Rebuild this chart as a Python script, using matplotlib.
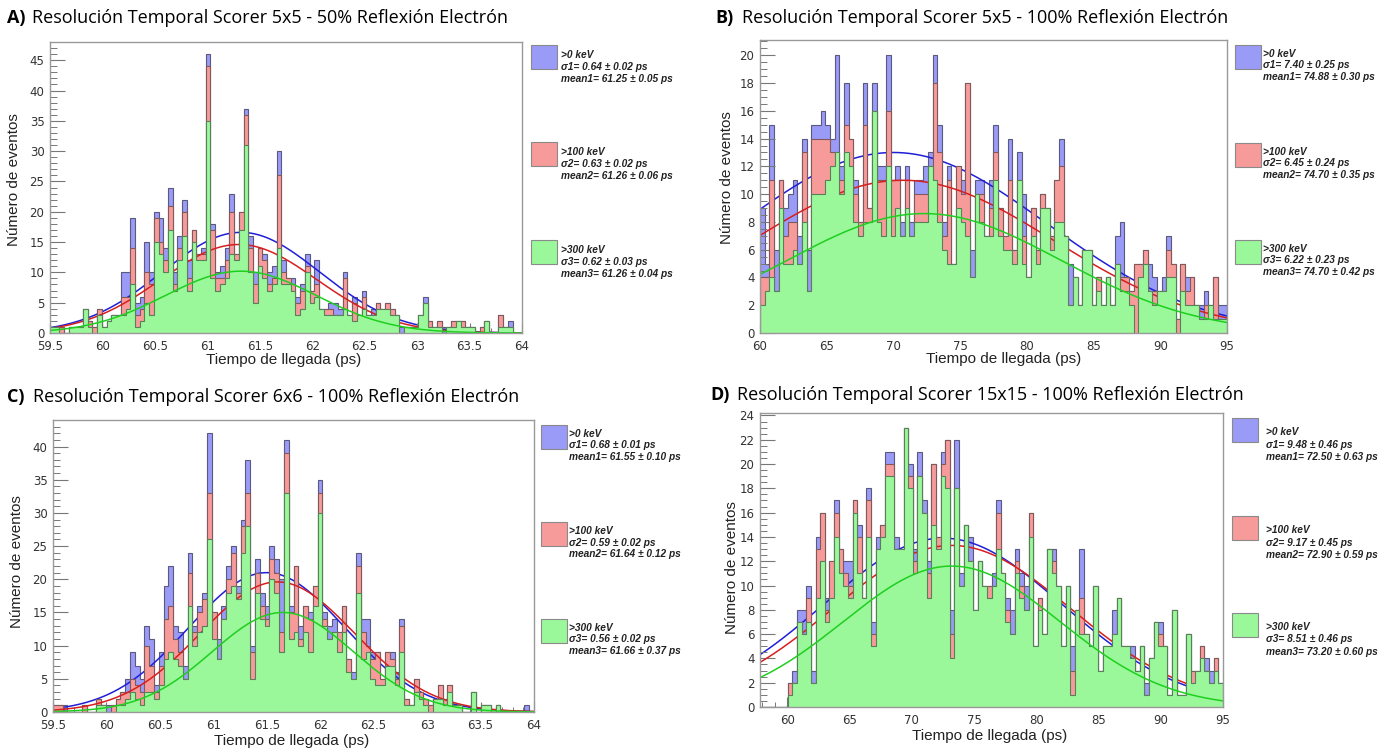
import numpy as np
import matplotlib.pyplot as plt
from matplotlib.ticker import MultipleLocator, FuncFormatter
from matplotlib.patches import Rectangle

W, H = 1397, 750

# ---------------- data ----------------
# panel A: 59.5 - 64 ps, 100 bins
a_range = (59.5, 64.0)
a_blue = [1,1,1,0,1,1,1,4,2,1, 4,1,2,3,3,10,10,19,5,6, 15,10,20,19,14,24,10,16,22,12,
          17,13,14,46,18,10,11,14,23,13, 20,37,16,10,14,13,10,11,30,12, 9,9,6,8,13,7,12,4,4,5,
          5,4,10,3,6,3,7,3,4,5, 4,5,4,3,1,1,1,1,3,6, 2,1,2,1,1,2,2,2,1,1, 0,1,2,0,0,3,1,2,0,0]
a_red = [1,1,1,0,1,1,1,4,2,1, 4,1,2,3,3,6,6,14,3,4, 10,8,19,15,12,21,8,14,20,9,
         17,13,13,44,17,9,9,12,20,13, 20,36,14,8,14,12,8,9,26,10, 9,8,5,7,11,7,8,4,4,4,
         3,3,9,3,5,3,6,3,3,5, 4,5,4,3,0,1,1,1,3,5, 2,1,2,0,1,2,2,2,1,1, 0,1,2,0,0,3,1,1,0,0]
a_green = [1,1,0,0,1,1,1,4,1,0, 3,1,2,3,3,3,4,8,1,2, 5,3,15,13,10,17,7,12,16,7,
           15,12,12,35,9,7,8,9,13,12, 17,31,10,5,11,9,7,8,14,8, 8,7,3,4,10,5,6,4,3,3,
           3,3,4,3,2,3,4,3,3,4, 4,4,3,3,0,1,1,1,3,5, 1,1,1,0,1,1,2,1,1,1, 0,0,2,0,0,1,1,1,0,0]
a_fit_amp = [16.6, 14.6, 10.2]
a_fit_mean = [61.32, 61.30, 61.32]
a_fit_sigma = [0.75, 0.74, 0.72]
a_legend = [("σ1= 0.64 ± 0.02 ps", "mean1= 61.25 ± 0.05 ps"),
            ("σ2= 0.63 ± 0.02 ps", "mean2= 61.26 ± 0.06 ps"),
            ("σ3= 0.62 ± 0.03 ps", "mean3= 61.26 ± 0.04 ps")]

# panel B: 60 - 95 ps, 100 bins
b_range = (60.0, 95.0)
b_blue = [9,5,15,6,11,9,10,11,7,14, 6,15,15,16,15,14,20,12,18,14, 11,8,18,9,18,12,12,20,11,12,
          8,12,8,11,11,12,13,20,15,8, 12,5,12,11,18,6,11,11,7,11, 15,9,7,14,6,13,10,4,9,6,
          10,9,7,11,14,7,5,4,2,6, 6,2,4,2,4,2,7,8,4,3, 5,5,6,5,4,3,4,7,5,1, 5,4,4,2,2,3,2,4,2,2]
b_red = [4,4,11,3,11,7,8,8,5,13, 3,14,14,14,14,13,13,11,15,14, 10,8,15,9,16,11,11,16,11,11,
         7,11,7,10,10,10,11,18,13,7, 11,5,12,10,18,4,10,10,7,9, 13,9,7,11,6,11,7,4,9,6,
         10,9,7,11,12,7,2,4,2,6, 6,2,4,2,4,2,5,4,4,3, 5,5,6,3,3,3,3,6,5,1, 5,3,4,2,1,2,2,4,1,1]
b_green = [2,3,4,3,9,5,5,6,5,8, 3,10,10,10,11,12,13,10,13,12, 8,7,8,8,16,8,7,12,7,9,
           7,9,7,8,8,8,12,11,8,6, 5,5,9,8,7,4,10,8,7,7, 11,7,6,6,5,11,5,4,7,5,
           9,9,6,8,8,7,2,4,2,6, 6,2,3,2,4,2,5,3,3,2, 0,4,5,3,2,3,3,4,4,0, 3,2,2,2,1,1,2,1,1,1]
b_fit_amp = [13.0, 11.0, 8.6]
b_fit_mean = [70.0, 70.7, 72.3]
b_fit_sigma = [11.5, 11.3, 10.3]
b_legend = [("σ1= 7.40 ± 0.25 ps", "mean1= 74.88 ± 0.30 ps"),
            ("σ2= 6.45 ± 0.24 ps", "mean2= 74.70 ± 0.35 ps"),
            ("σ3= 6.22 ± 0.23 ps", "mean3= 74.70 ± 0.42 ps")]

# panel C: 59.5 - 64 ps, 100 bins
c_range = (59.5, 64.0)
c_blue = [1,1,1,0,0,0,1,0,0,2, 1,1,1,2,3,5,9,7,5,13, 11,4,9,19,22,13,12,7,24,13,
          16,18,42,15,11,16,22,25,19,29, 38,10,23,18,16,25,23,20,41,16, 22,13,16,15,19,35,15,13,14,12,
          16,8,6,24,14,14,9,9,5,9, 9,6,14,2,1,5,3,2,1,2, 4,2,4,1,1,0,0,3,0,1, 1,0,1,0,0,0,0,0,1,0]
c_red = [1,1,0,0,0,0,1,0,0,2, 1,0,1,2,3,3,5,4,3,10, 7,3,7,14,16,11,9,5,21,12,
         15,17,33,15,8,14,20,24,18,28, 33,9,21,16,14,23,21,12,39,15, 22,11,16,14,19,33,14,11,12,12,
         16,8,5,22,12,10,8,9,5,9, 8,5,13,2,1,5,3,2,1,2, 4,2,4,1,1,0,0,3,0,1, 1,0,1,0,0,0,0,0,0,0]
c_green = [0,0,0,0,0,0,0,0,0,1, 1,0,0,1,1,2,3,2,1,3, 3,2,4,8,9,8,7,5,16,10,
           12,13,26,11,8,14,18,19,17,24, 28,5,18,14,13,20,18,9,33,11, 12,10,12,9,16,30,13,11,12,9,
           12,6,5,18,8,9,5,4,4,7, 7,4,9,1,1,3,2,1,0,2, 2,1,3,1,1,0,0,3,0,1, 1,0,1,0,0,0,0,0,0,0]
c_fit_amp = [21.0, 19.6, 15.0]
c_fit_mean = [61.50, 61.60, 61.65]
c_fit_sigma = [0.73, 0.72, 0.66]
c_legend = [("σ1= 0.68 ± 0.01 ps", "mean1= 61.55 ± 0.10 ps"),
            ("σ2= 0.59 ± 0.02 ps", "mean2= 61.64 ± 0.12 ps"),
            ("σ3= 0.56 ± 0.02 ps", "mean3= 61.66 ± 0.37 ps")]

# panel D: 57.8 - 95 ps, 100 bins
d_range = (57.8, 95.0)
d_blue = [0,0,0,0,0,0,2,3,8,8, 10,3,14,16,9,12,17,13,12,12, 17,15,9,18,7,14,15,21,21,14,
          13,23,20,13,21,17,12,20,14,21, 22,8,22,11,15,14,8,12,10,10, 11,17,11,9,8,13,11,10,16,5,
          9,6,13,13,10,5,10,5,8,13, 6,5,10,3,5,5,8,9,5,5, 5,3,5,2,4,7,7,5,1,8, 1,1,6,3,3,5,4,3,4,2]
d_red = [0,0,0,0,0,0,2,2,7,6, 9,2,13,16,8,12,16,13,11,10, 17,14,9,17,6,13,15,20,20,13,
         13,23,19,12,19,16,11,20,14,20, 22,6,18,10,15,12,8,12,10,10, 10,16,11,8,6,12,10,8,16,5,
         9,6,13,12,10,5,10,3,8,9, 6,5,10,3,5,5,6,9,5,5, 4,3,5,1,4,7,6,5,1,8, 1,1,6,3,3,5,3,2,4,2]
d_green = [0,0,0,0,0,0,1,2,7,6, 7,2,9,12,7,9,14,11,10,9, 16,11,9,14,5,13,14,19,19,13,
           13,23,18,11,19,16,9,15,13,19, 18,4,18,10,15,12,8,12,10,9, 10,13,11,7,6,11,9,8,14,5,
           8,6,13,11,10,5,10,1,8,6, 6,5,10,3,5,5,6,9,5,5, 4,3,5,1,4,7,5,5,1,8, 1,1,6,2,3,4,3,2,3,2]
d_fit_amp = [13.9, 13.3, 11.6]
d_fit_mean = [72.5, 73.2, 73.2]
d_fit_sigma = [9.6, 9.6, 8.7]
d_legend = [("σ1= 9.48 ± 0.46 ps", "mean1= 72.50 ± 0.63 ps"),
            ("σ2= 9.17 ± 0.45 ps", "mean2= 72.90 ± 0.59 ps"),
            ("σ3= 8.51 ± 0.46 ps", "mean3= 73.20 ± 0.60 ps")]

thresholds = [">0 keV", ">100 keV", ">300 keV"]
fill_colors = ["#9a9af7", "#f79a9a", "#9af79a"]
edge_colors = ["#5a5a80", "#805a5a", "#5a805a"]
line_colors = ["#1f1fd8", "#d81f1f", "#1fcf1f"]

fig = plt.figure(figsize=(W / 100, H / 100), dpi=100)


def fx(x):
    return x / W


def fy(y):
    return 1 - y / H


def draw_panel(box, xr, series, amps, means, sigmas, ylim, xmaj, xmin, ymaj, ymin):
    l, t, r, b = box
    ax = fig.add_axes([fx(l), fy(b), (r - l) / W, (b - t) / H])
    edges = np.linspace(xr[0], xr[1], len(series[0]) + 1)
    xs = np.linspace(xr[0], xr[1], 500)
    z = 1
    # each histogram is drawn over the previous fit, as in the ROOT canvas
    for vals, fc, ec, lc, amp, mu, sg in zip(series, fill_colors, edge_colors, line_colors,
                                             amps, means, sigmas):
        ax.stairs(vals, edges, fill=True, facecolor=fc, edgecolor=ec, linewidth=0.8, zorder=z)
        ax.plot(xs, amp * np.exp(-0.5 * ((xs - mu) / sg) ** 2), color=lc, lw=1.1, zorder=z + 0.5)
        z += 1
    ax.set_xlim(*xr)
    ax.set_ylim(*ylim)
    ax.xaxis.set_major_locator(MultipleLocator(xmaj))
    ax.xaxis.set_minor_locator(MultipleLocator(xmin))
    ax.yaxis.set_major_locator(MultipleLocator(ymaj))
    ax.yaxis.set_minor_locator(MultipleLocator(ymin))
    ax.xaxis.set_major_formatter(FuncFormatter(lambda v, p: "%g" % v))
    ax.tick_params(axis="y", which="major", direction="in", length=10.5, width=0.8,
                   color="#777777", labelsize=8.5, labelcolor="#333333", pad=4)
    ax.tick_params(axis="y", which="minor", direction="in", length=5, width=0.7, color="#777777")
    ax.tick_params(axis="x", which="major", direction="in", length=7, width=0.8,
                   color="#777777", labelsize=8.5, labelcolor="#333333", pad=5)
    ax.tick_params(axis="x", which="minor", direction="in", length=3.5, width=0.7, color="#777777")
    for s in ax.spines.values():
        s.set_color("#999999")
        s.set_linewidth(1.0)
        s.set_zorder(10)
    return ax


def titles(letter, text, x, y, x2):
    fig.text(fx(x), fy(y), letter, fontsize=13, fontweight="bold", va="center",
             family="Open Sans")
    fig.text(fx(x2), fy(y), text, fontsize=13, va="center", family="Open Sans")


def legend(bx, tops, lines, tx, offs):
    for i in range(3):
        fig.patches.append(Rectangle((fx(bx), fy(tops[i] + 24)), 26 / W, 24 / H,
                                     transform=fig.transFigure, facecolor=fill_colors[i],
                                     edgecolor="#8a8a8a", linewidth=0.8))
        texts = [thresholds[i], lines[i][0], lines[i][1]]
        for j, s in enumerate(texts):
            fig.text(fx(tx), fy(tops[i] + offs[0] + j * offs[1]), s, fontsize=7.3,
                     fontweight="bold", fontstyle="italic", va="center", color="#222222",
                     family=["Liberation Sans", "DejaVu Sans"])


def labels(xc, xy, yx, yc):
    fig.text(fx(xc), fy(xy), "Tiempo de llegada (ps)", fontsize=11, ha="center",
             va="center", color="#222222", family="Liberation Sans")
    fig.text(fx(yx), fy(yc), "Número de eventos", fontsize=11, ha="center", va="center",
             rotation=90, color="#222222", family="Liberation Sans")


# A
draw_panel((50, 42, 522, 333), a_range, [a_blue, a_red, a_green],
           a_fit_amp, a_fit_mean, a_fit_sigma, (0, 48), 0.5, 0.1, 5, 1)
titles("A)", "Resolución Temporal Scorer 5x5 - 50% Reflexión Electrón", 7, 18, 32)
legend(531, [45, 142, 240], a_legend, 561, (10, 12))
labels(284, 360, 14, 180)

# B
draw_panel((760, 40, 1227, 333), b_range, [b_blue, b_red, b_green],
           b_fit_amp, b_fit_mean, b_fit_sigma, (0, 21.1), 5, 1, 2, 0.5)
titles("B)", "Resolución Temporal Scorer 5x5 - 100% Reflexión Electrón", 715, 18, 742)
legend(1235, [45, 143, 240], b_legend, 1263, (9, 11.5))
labels(1004, 359, 727, 178)

# C
draw_panel((53, 420, 534, 712), c_range, [c_blue, c_red, c_green],
           c_fit_amp, c_fit_mean, c_fit_sigma, (0, 44), 0.5, 0.1, 5, 1)
titles("C)", "Resolución Temporal Scorer 6x6 - 100% Reflexión Electrón", 7, 397, 33)
legend(541, [425, 522, 619], c_legend, 569, (9, 11.5))
labels(292, 741, 17, 562)

# D
draw_panel((760, 413, 1223, 707), d_range, [d_blue, d_red, d_green],
           d_fit_amp, d_fit_mean, d_fit_sigma, (0, 24.2), 5, 1, 2, 0.5)
titles("D)", "Resolución Temporal Scorer 15x15 - 100% Reflexión Electrón", 710, 395, 737)
legend(1232, [418, 516, 613], d_legend, 1266, (14, 12.5))
labels(990, 736, 732, 568)

fig.savefig("out.png", dpi=100)
